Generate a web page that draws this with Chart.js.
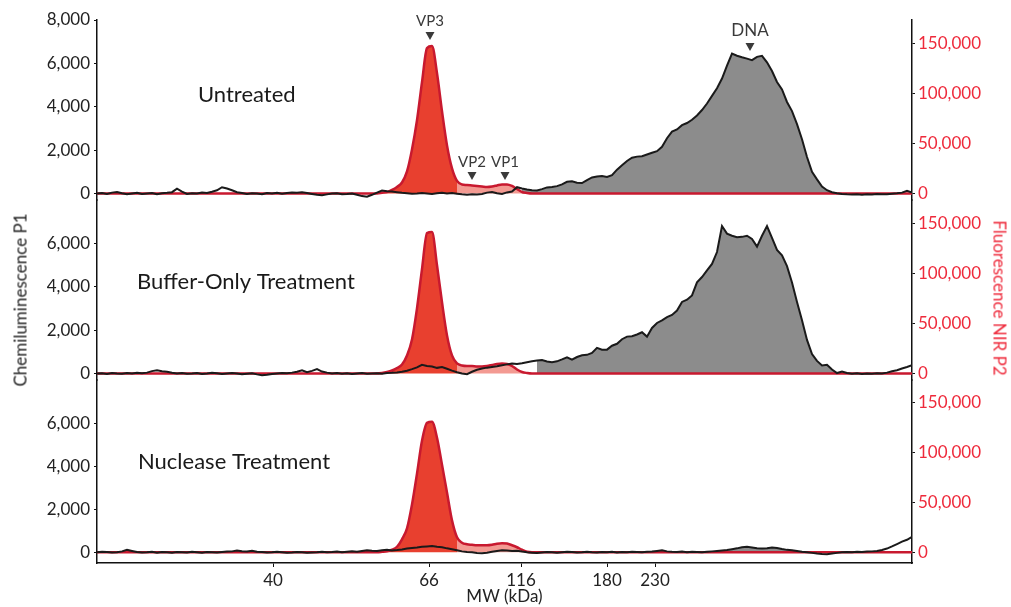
<!DOCTYPE html>
<html>
<head>
<meta charset="utf-8">
<script src="https://cdn.jsdelivr.net/npm/chart.js@4.4.1/dist/chart.umd.min.js"></script>
<style>
  html, body { margin: 0; padding: 0; background: #fff; }
  #wrap { position: relative; width: 1011px; height: 607px; overflow: hidden; font-family: Lato, sans-serif; }
  .panel { position: absolute; left: 0; width: 1011px; }
  .ytitle { position: absolute; font-size: 17px; font-weight: 400; white-space: nowrap; transform-origin: center; }
</style>
</head>
<body>
<div id="wrap">
  <div class="panel" style="top:0;height:220px"><canvas id="c1"></canvas></div>
  <div class="panel" style="top:180px;height:220px"><canvas id="c2"></canvas></div>
  <div class="panel" style="top:360px;height:247px"><canvas id="c3"></canvas></div>
  <div class="ytitle" style="left:20px;top:300px;color:#222;transform:translate(-50%,-50%) rotate(-90deg)">Chemiluminescence P1</div>
  <div class="ytitle" style="left:1000px;top:298px;color:#ee2a3b;transform:translate(-50%,-50%) rotate(90deg)">Fluorescence NIR P2</div>
</div>
<script>
// migration position (one step = 1/163 of the lane), x ticks in MW (kDa)
const migration = Array.from({ length: 164 }, (_, i) => i);
const mwTicks = [40, 66, 116, 180, 230];
const mwTickPos = [35.2, 66.4, 84.8, 102, 111.6];
const chemiTicks = [0, 2000, 4000, 6000, 8000];
const nirTicks = [0, 50000, 100000, 150000];

// Chemiluminescence P1 (left axis)
const untreatedChemi = [
  0, 20, -20, 40, 70, 10, -30, 0, 30, -20, 0, 20, -30, 10, 30, 60, 220, 90, -20, 10,
  0, 40, 20, 80, 150, 290, 230, 150, 60, 20, -20, 10, 0, -30, 20, 0, 30, -10, 20, 50,
  30, 60, 20, -20, -60, -80, -40, 0, 10, -30, -20, 0, -60, -120, -150, -60, 40, 140, 100, 90,
  60, 30, 10, -10, 0, 20, 0, -20, 10, 30, 0, 20, -10, -40, -60, -30, -50, -20, 40, 70,
  10, -20, 50, 90, 290, 230, 180, 150, 140, 200, 280, 300, 340, 420, 540, 560, 500, 480, 620, 740,
  780, 810, 760, 850, 1100, 1300, 1500, 1650, 1700, 1720, 1800, 1880, 1950, 2150, 2550, 2850, 2950, 3150, 3250, 3400,
  3600, 3850, 4150, 4500, 4850, 5300, 5900, 6450, 6350, 6280, 6220, 6150, 6300, 6350, 6050, 5650, 5140, 4800, 4220, 3800,
  3200, 2500, 1680, 1000, 650, 320, 150, 60, 15, -20, -40, -50, -30, -60, -40, -50, -20, -40, -30, -10,
  10, 40, 120, 40
];
const bufferChemi = [
  0, 10, -20, 20, 0, -10, 20, 0, 30, 10, 40, 110, 150, 100, 80, 30, 0, 20, -10, 0,
  20, -20, 0, 30, 10, -20, 0, 20, 0, -30, -10, 10, -40, -80, -60, -20, 0, 20, 10, 40,
  80, 150, 60, 120, 200, 90, 40, 0, 20, -10, 10, -20, 0, 20, -10, 0, 10, -10, 20, 30,
  50, 80, 130, 200, 280, 400, 350, 320, 260, 300, 220, 130, 60, 0, -30, 80, 170, 230, 270, 300,
  330, 380, 420, 460, 440, 470, 520, 560, 600, 620, 550, 520, 560, 650, 750, 640, 760, 840, 860, 950,
  1180, 1100, 1100, 1280, 1370, 1580, 1700, 1720, 1800, 1900, 1700, 2100, 2330, 2450, 2600, 2700, 2900, 3300, 3400, 3600,
  4200, 4450, 4750, 5050, 5600, 6800, 6450, 6350, 6280, 6300, 6350, 6200, 5850, 6350, 6800, 6250, 5700, 5450, 4950, 4200,
  3300, 2450, 1550, 900, 580, 370, 400, 180, 20, 90, 20, -10, 10, -20, 0, -10, 10, 0, 40, 100,
  150, 230, 300, 380
];
const nucleaseChemi = [
  0, 20, 10, -10, 0, 40, 110, 60, 10, -10, 0, 20, -20, 10, 0, -20, 10, 0, -10, 20,
  0, -20, 10, 0, -10, 10, 30, 40, 80, 50, 30, 70, 20, 10, -10, 0, 20, 0, -20, -10,
  10, 0, -20, -10, 0, 20, 0, 10, 30, 0, 20, 40, 20, 60, 90, 70, 60, 90, 110, 80,
  100, 130, 170, 200, 220, 250, 270, 290, 250, 230, 180, 140, 90, 40, 10, 0, -30, -50, -20, 20,
  60, 90, 80, 60, 70, 30, 0, -20, -40, -10, 10, 0, -20, 0, 20, 10, -10, 0, 20, 0,
  -10, 10, 0, 20, -10, 10, 0, 20, 10, 0, 20, 30, 60, 90, 40, 20, 10, 30, 0, 20,
  10, 0, 20, 40, 60, 80, 100, 140, 180, 230, 250, 220, 180, 170, 190, 220, 200, 150, 110, 90,
  60, 20, 0, -30, -60, -80, -90, -60, -30, 0, 10, 0, 20, 10, 30, 40, 60, 100, 170, 270,
  380, 490, 580, 720
];

// Fluorescence NIR P2 (right axis), zero outside the listed window
const untreatedNir = [
  ...new Array(57).fill(0),
  700, 1500, 3500, 6500, 11000, 22000, 44000, 73000, 111000, 145000, 147000, 120000, 82000, 48000, 25000, 12500,
  9000, 8500, 8000, 7500, 7000, 6500, 7000, 8000, 9000, 9000, 7500, 4500, 1500, 500,
  ...new Array(77).fill(0)
];
const bufferNir = [
  ...new Array(57).fill(0),
  500, 1500, 3000, 5500, 9000, 18000, 34000, 65000, 104000, 140000, 141000, 108000, 71000, 38000, 18000, 10000,
  8000, 7500, 7500, 7000, 7000, 7500, 8500, 9500, 10000, 9500, 7500, 4000, 1500, 500,
  ...new Array(77).fill(0)
];
const nucleaseNir = [
  ...new Array(57).fill(0),
  400, 1000, 2500, 5500, 13000, 24000, 48000, 79000, 112000, 130000, 131000, 115000, 88000, 60000, 32000, 15000,
  9500, 8000, 7500, 7000, 7000, 7000, 7500, 8500, 9000, 8700, 7000, 5000, 2500, 500,
  ...new Array(77).fill(0)
];

const nirPerChemi = 21.625;
const RED_LINE = '#c8192f', RED_FILL = '#e8402f', PINK_FILL = '#f39a92', GRAY = '#8c8c8c';
const FONT = 'Lato, sans-serif';

const pts = (vals) => vals.map((v, i) => ({ x: migration[i], y: v }));
const mask = (vals, from, to) => vals.map((v, i) => ({ x: migration[i], y: (i >= from && i <= to) ? v : null }));

const panels = [
  { id: 'c1', chemi: untreatedChemi, nir: untreatedNir, gray: [85, 148], min: -300, top: true, xAxis: false,
    label: 'Untreated', lx: 198, ly: 95, markers: true },
  { id: 'c2', chemi: bufferChemi, nir: bufferNir, gray: [88, 148], min: -300, top: false, xAxis: false,
    label: 'Buffer-Only Treatment', lx: 137, ly: 102 },
  { id: 'c3', chemi: nucleaseChemi, nir: nucleaseNir, gray: [126, 140], min: -500, top: false, xAxis: true,
    label: 'Nuclease Treatment', lx: 138, ly: 102 }
];

const markers = [
  { text: 'VP3', pos: 66.6, y: 21, ay: 36, size: 15 },
  { text: 'VP2', pos: 75, y: 162, ay: 176, size: 15 },
  { text: 'VP1', pos: 81.6, y: 162, ay: 176, size: 15 },
  { text: 'DNA', pos: 130.6, y: 31, ay: 47, size: 17 }
];

const textPlugin = {
  id: 'panelText',
  afterDraw(chart, args, opts) {
    const ctx = chart.ctx;
    ctx.save();
    ctx.fillStyle = '#1a1a1a';
    ctx.font = '22px ' + FONT;
    ctx.textAlign = 'left';
    ctx.textBaseline = 'middle';
    ctx.fillText(opts.label, opts.lx, opts.ly);
    if (opts.markers) {
      const xs = chart.scales.x;
      markers.forEach(m => {
        const px = xs.getPixelForValue(m.pos);
        ctx.fillStyle = '#3a3a3a';
        ctx.font = m.size + 'px ' + FONT;
        ctx.textAlign = 'center';
        ctx.fillText(m.text, px, m.y);
        ctx.beginPath();
        ctx.moveTo(px - 4.5, m.ay - 4);
        ctx.lineTo(px + 4.5, m.ay - 4);
        ctx.lineTo(px, m.ay + 4);
        ctx.closePath();
        ctx.fill();
      });
    }
    ctx.restore();
  }
};

panels.forEach(p => {
  const datasets = [
    { data: mask(p.chemi, p.gray[0], p.gray[1]), yAxisID: 'y', fill: 'origin', backgroundColor: GRAY,
      borderWidth: 0, pointRadius: 0, tension: 0, order: 6 },
    { data: mask(p.nir, 56, 72), yAxisID: 'y2', fill: 'origin', backgroundColor: RED_FILL,
      borderWidth: 0, pointRadius: 0, cubicInterpolationMode: 'monotone', order: 5 },
    { data: mask(p.nir, 72, 87), yAxisID: 'y2', fill: 'origin', backgroundColor: PINK_FILL,
      borderWidth: 0, pointRadius: 0, cubicInterpolationMode: 'monotone', order: 4 },
    { data: pts(p.nir), yAxisID: 'y2', fill: false, borderColor: RED_LINE, borderWidth: 2.5,
      pointRadius: 0, cubicInterpolationMode: 'monotone', order: 3 },
    { data: pts(p.chemi), yAxisID: 'y', fill: false, borderColor: '#1a1a1a', borderWidth: 2,
      pointRadius: 0, tension: 0, order: 1 }
  ];
  new Chart(document.getElementById(p.id), {
    type: 'line',
    data: { datasets },
    options: {
      responsive: true,
      maintainAspectRatio: false,
      animation: false,
      layout: { padding: { top: 20, bottom: p.xAxis ? 0 : 20, left: 0, right: 0 } },
      plugins: { legend: { display: false }, tooltip: { enabled: false }, panelText: p },
      scales: {
        x: {
          type: 'linear', min: 0, max: 163, display: p.xAxis,
          afterBuildTicks: s => { s.ticks = mwTickPos.map(v => ({ value: v })); },
          afterFit: s => { s.height = p.xAxis ? 44 : 0; },
          ticks: { callback: v => mwTicks[mwTickPos.indexOf(v)], color: '#222', font: { size: 17, family: FONT }, padding: 3, maxRotation: 0 },
          grid: { drawOnChartArea: false, tickLength: 4, color: '#111' },
          border: { color: '#111', width: 1.5 },
          title: { display: true, text: 'MW (kDa)', color: '#222', font: { size: 17, family: FONT }, padding: { top: 0, bottom: 0 } }
        },
        y: {
          position: 'left', min: p.min, max: 8000,
          afterBuildTicks: s => { s.ticks = chemiTicks.filter(v => p.top || v < 8000).map(v => ({ value: v })); },
          afterFit: s => { s.width = 97; },
          ticks: { callback: v => v.toLocaleString('en-US'), color: '#222', font: { size: 17, family: FONT }, padding: 4 },
          grid: { drawOnChartArea: false, tickLength: 3, color: '#111' },
          border: { color: '#111', width: 1.5 }
        },
        y2: {
          position: 'right', min: p.min * nirPerChemi, max: 8000 * nirPerChemi,
          afterBuildTicks: s => { s.ticks = nirTicks.map(v => ({ value: v })); },
          afterFit: s => { s.width = 99; },
          ticks: { callback: v => v.toLocaleString('en-US'), color: '#ee2a3b', font: { size: 17, family: FONT }, padding: 3 },
          grid: { drawOnChartArea: false, tickLength: 3, color: '#111' },
          border: { color: '#111', width: 1.5 }
        }
      }
    },
    plugins: [textPlugin]
  });
});
</script>
</body>
</html>
